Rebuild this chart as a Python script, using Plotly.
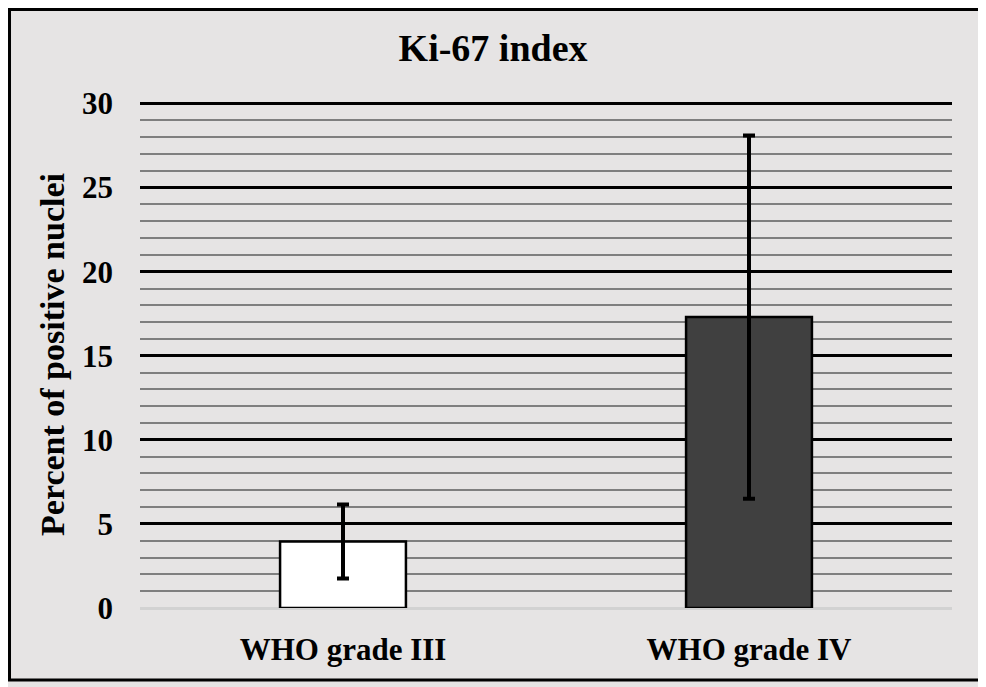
import plotly.graph_objects as go

# Ki-67 labelling index by tumour grade
grades = ["WHO grade III", "WHO grade IV"]
mean_pct = [3.95, 17.3]
sd_pct = [2.2, 10.8]
bar_colors = ["#ffffff", "#404040"]

bg = "#e6e4e4"
font_family = "Liberation Serif, Times New Roman, serif"
bold = dict(family=font_family, weight="bold", color="black")

fig = go.Figure()

fig.add_trace(go.Bar(
    x=grades,
    y=mean_pct,
    width=0.31,
    marker=dict(color=bar_colors, line=dict(color="black", width=2.5)),
    error_y=dict(type="data", array=sd_pct, visible=True,
                 color="black", thickness=4, width=6),
    showlegend=False,
))

# the page sits 8px in from the window corner, so the figure is a bit smaller
fig.update_layout(
    width=978, height=679,
    margin=dict(l=132, r=34, t=93, b=79),
    paper_bgcolor=bg,
    plot_bgcolor=bg,
    font=dict(size=31, **bold),
    title=dict(text="Ki-67 index", x=0.496, xref="container", xanchor="center",
               y=1 - 40 / 679, yref="container", yanchor="middle",
               font=dict(size=38, **bold)),
    xaxis=dict(showgrid=False, showline=False, ticks="",
               ticklabelstandoff=20,
               tickfont=dict(size=31, **bold)),
    yaxis=dict(range=[0, 30.15],
               tickvals=[0, 5, 10, 15, 20, 25, 30],
               showgrid=True, gridcolor="black", gridwidth=3,
               minor=dict(dtick=1, tick0=0, showgrid=True,
                          gridcolor="#7f7f7f", gridwidth=2),
               zeroline=True, zerolinecolor="#d2d2d2", zerolinewidth=3,
               showline=False, ticks="", ticklabelstandoff=26,
               tickfont=dict(size=31, **bold),
               title=dict(text="Percent of positive nuclei", standoff=7,
                          font=dict(size=34, **bold))),
    # white highlight just under each grid line
    yaxis2=dict(overlaying="y", anchor="x", range=[0.14, 30.29], dtick=1,
                showgrid=True, gridcolor="white", gridwidth=1.5,
                zeroline=False, showticklabels=False, ticks=""),
    shapes=[dict(type="rect", xref="paper", yref="paper",
                 x0=-0.1607, x1=1.0345, y0=-0.142, y1=1.1805,
                 line=dict(color="black", width=3), layer="above")],
)

fig.write_html("out.html")
